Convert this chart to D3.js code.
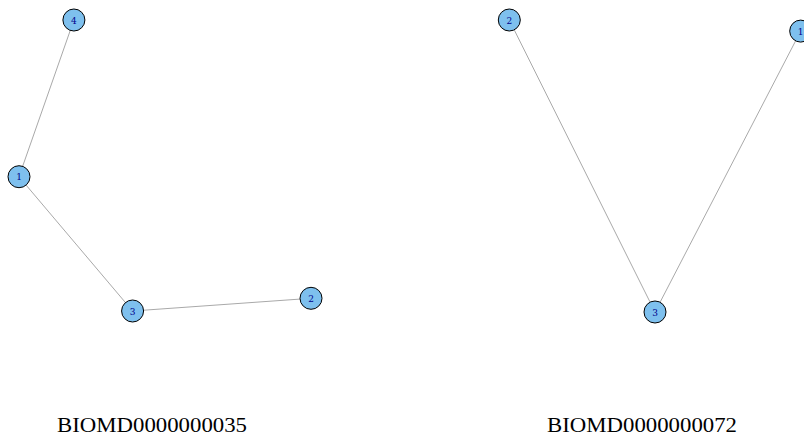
<!DOCTYPE html>
<html>
<head>
<meta charset="utf-8">
<script src="https://cdn.jsdelivr.net/npm/d3@7"></script>
<style>
  html, body { margin: 0; padding: 0; background: #ffffff; }
  svg { display: block; }
</style>
</head>
<body>
<svg id="chart" width="804" height="439"></svg>
<script>
// Graph 1: BIOMD0000000035
const titleA = "BIOMD0000000035";
const nodeIdsA = ["1", "2", "3", "4"];
const layoutXA = [0.0, 1.0, 0.389, 0.188];
const layoutYA = [0.4615, 0.0436, 0.0, 1.0];
const edgesA = [["4", "1"], ["1", "3"], ["3", "2"]];

// Graph 2: BIOMD0000000072
const titleB = "BIOMD0000000072";
const nodeIdsB = ["1", "2", "3"];
const layoutXB = [1.0, 0.0, 0.5];
const layoutYB = [0.962, 1.0, 0.0];
const edgesB = [["2", "3"], ["1", "3"]];

const svg = d3.select("#chart");

function drawGraph(ids, lx, ly, edges, title, xRange, yRange, titleX) {
  const x = d3.scaleLinear().domain([0, 1]).range(xRange);
  const y = d3.scaleLinear().domain([0, 1]).range(yRange);
  const nodes = ids.map((id, i) => ({ id, x: x(lx[i]), y: y(ly[i]) }));
  const byId = new Map(nodes.map(n => [n.id, n]));
  const g = svg.append("g");
  g.selectAll("line").data(edges).join("line")
    .attr("x1", d => byId.get(d[0]).x)
    .attr("y1", d => byId.get(d[0]).y)
    .attr("x2", d => byId.get(d[1]).x)
    .attr("y2", d => byId.get(d[1]).y)
    .attr("stroke", "#A9A9A9")
    .attr("stroke-width", 1);
  g.selectAll("circle").data(nodes).join("circle")
    .attr("cx", d => d.x).attr("cy", d => d.y).attr("r", 11)
    .attr("fill", "#7EC0EE").attr("stroke", "#000").attr("stroke-width", 1);
  g.selectAll("text.nl").data(nodes).join("text")
    .attr("class", "nl")
    .attr("x", d => d.x).attr("y", d => d.y + 3.5)
    .attr("text-anchor", "middle")
    .attr("font-family", "'DejaVu Serif', 'Liberation Serif', serif")
    .attr("font-size", 9)
    .attr("fill", "#00008B")
    .text(d => d.id);
  svg.append("text")
    .attr("x", titleX).attr("y", 432)
    .attr("text-anchor", "middle")
    .attr("font-family", "'Liberation Serif', 'DejaVu Serif', serif")
    .attr("font-size", 20)
    .attr("textLength", 190)
    .attr("lengthAdjust", "spacingAndGlyphs")
    .attr("fill", "#000")
    .text(title);
}

drawGraph(nodeIdsA, layoutXA, layoutYA, edgesA, titleA, [19, 311], [311, 20], 152);
drawGraph(nodeIdsB, layoutXB, layoutYB, edgesB, titleB, [509.3, 800.7], [312, 20], 642);
</script>
</body>
</html>
